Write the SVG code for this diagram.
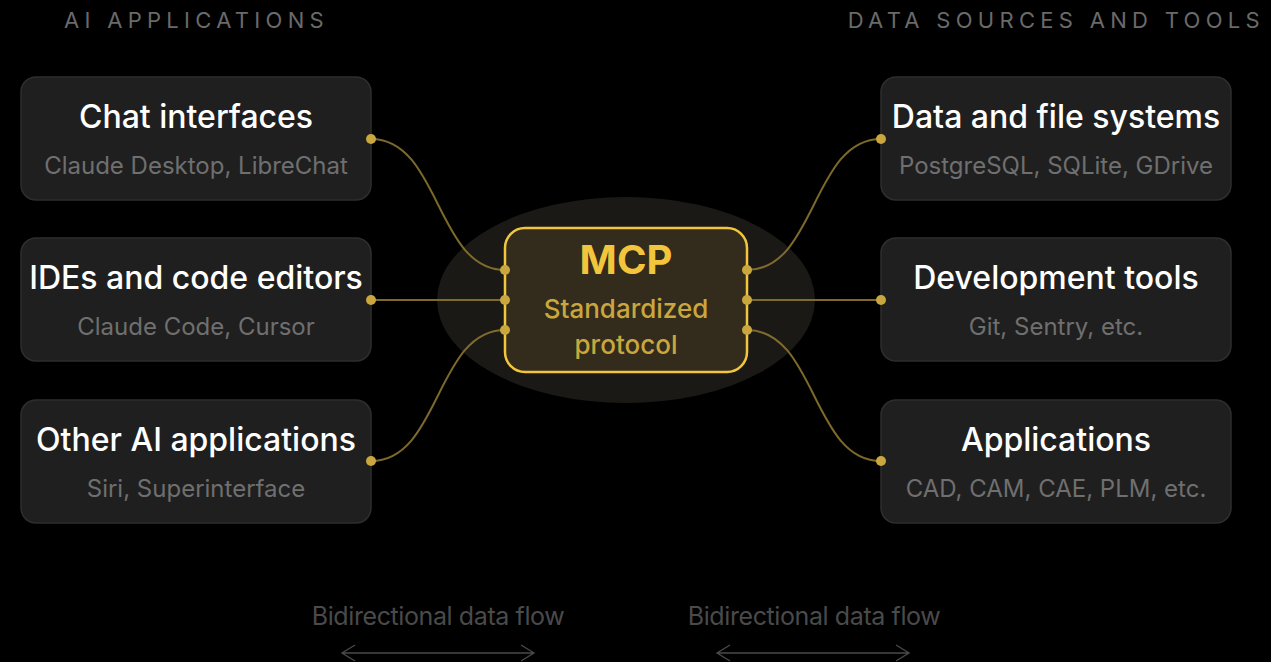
<svg xmlns="http://www.w3.org/2000/svg" width="1271" height="662" viewBox="0 0 1271 662">
<style>
.box{fill:#1f1f1f;stroke:#2e2e2e;stroke-width:1.5}
.t{font-family:Inter,"Liberation Sans",sans-serif;font-size:32px;font-weight:500;fill:#ffffff;text-anchor:middle}
.s{font-family:Inter,"Liberation Sans",sans-serif;font-size:24px;fill:#6f6f6f;text-anchor:middle}
.h{font-family:Inter,"Liberation Sans",sans-serif;font-size:22px;fill:#6a6a6a;letter-spacing:5.3px}
.c{fill:none;stroke:#8a7430;stroke-width:2;opacity:0.9}
.d{fill:#c9a73e}
.b{font-family:Inter,"Liberation Sans",sans-serif;font-size:25px;fill:#4a4a4a;text-anchor:middle;letter-spacing:-0.4px}
.a{fill:none;stroke:#4a4a4a;stroke-width:1.3}
</style>
<rect width="1271" height="662" fill="#000"/>
<text class="h" x="64" y="28">AI APPLICATIONS</text>
<text class="h" x="1265" y="28" text-anchor="end">DATA SOURCES AND TOOLS</text>
<ellipse cx="626" cy="300" rx="189" ry="103" fill="#1b1915"/>
<g id="connectors">
<path class="c" d="M371,139 C440,139 436,270 505,270"/>
<path class="c" d="M371,300 L505,300"/>
<path class="c" d="M371,461 C440,461 436,330 505,330"/>
<path class="c" d="M747,270 C816,270 812,139 881,139"/>
<path class="c" d="M747,300 L881,300"/>
<path class="c" d="M747,330 C816,330 812,461 881,461"/>
</g>
<g id="mcp">
<rect x="505" y="228" width="242" height="144" rx="20" fill="#332b1b" stroke="#f2c53d" stroke-width="2.5"/>
<text x="626" y="274" font-family="Inter,'Liberation Sans',sans-serif" font-size="40" font-weight="700" fill="#f2c53d" text-anchor="middle">MCP</text>
<text x="626" y="318" font-family="Inter,'Liberation Sans',sans-serif" font-size="26" font-weight="500" fill="#c9a73e" text-anchor="middle">Standardized</text>
<text x="626" y="354" font-family="Inter,'Liberation Sans',sans-serif" font-size="26" font-weight="500" fill="#c9a73e" text-anchor="middle">protocol</text>
</g>
<g id="chat"><rect class="box" x="21" y="77" width="350" height="123" rx="15"/><text class="t" x="196" y="128">Chat interfaces</text><text class="s" x="196" y="174">Claude Desktop, LibreChat</text></g>
<g id="ides"><rect class="box" x="21" y="238" width="350" height="123" rx="15"/><text class="t" x="196" y="289">IDEs and code editors</text><text class="s" x="196" y="335">Claude Code, Cursor</text></g>
<g id="other"><rect class="box" x="21" y="400" width="350" height="123" rx="15"/><text class="t" x="196" y="451">Other AI applications</text><text class="s" x="196" y="497">Siri, Superinterface</text></g>
<g id="data"><rect class="box" x="881" y="77" width="350" height="123" rx="15"/><text class="t" x="1056" y="128">Data and file systems</text><text class="s" x="1056" y="174">PostgreSQL, SQLite, GDrive</text></g>
<g id="dev"><rect class="box" x="881" y="238" width="350" height="123" rx="15"/><text class="t" x="1056" y="289">Development tools</text><text class="s" x="1056" y="335">Git, Sentry, etc.</text></g>
<g id="apps"><rect class="box" x="881" y="400" width="350" height="123" rx="15"/><text class="t" x="1056" y="451">Applications</text><text class="s" x="1056" y="497">CAD, CAM, CAE, PLM, etc.</text></g>
<g id="dots">
<circle class="d" cx="371" cy="139" r="5"/><circle class="d" cx="371" cy="300" r="5"/><circle class="d" cx="371" cy="461" r="5"/>
<circle class="d" cx="505" cy="270" r="5"/><circle class="d" cx="505" cy="300" r="5"/><circle class="d" cx="505" cy="330" r="5"/>
<circle class="d" cx="747" cy="270" r="5"/><circle class="d" cx="747" cy="300" r="5"/><circle class="d" cx="747" cy="330" r="5"/>
<circle class="d" cx="881" cy="139" r="5"/><circle class="d" cx="881" cy="300" r="5"/><circle class="d" cx="881" cy="461" r="5"/>
</g>
<g id="flow-left">
<text class="b" x="438" y="625">Bidirectional data flow</text>
<path class="a" d="M343,653 L533,653 M355,645 L342,653 L355,661 M521,645 L534,653 L521,661"/>
</g>
<g id="flow-right">
<text class="b" x="814" y="625">Bidirectional data flow</text>
<path class="a" d="M718,653 L908,653 M730,645 L717,653 L730,661 M896,645 L909,653 L896,661"/>
</g>
</svg>
